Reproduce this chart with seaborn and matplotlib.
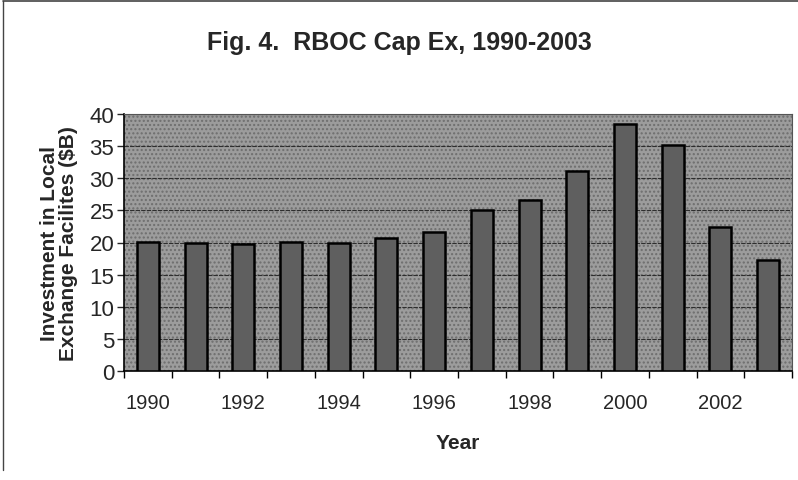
import numpy as np
import pandas as pd
import matplotlib
matplotlib.use("Agg")
import matplotlib.pyplot as plt
import seaborn as sns

years = list(range(1990, 2004))
capex = [20.1, 20.0, 19.8, 20.1, 20.0, 20.7, 21.7, 25.0, 26.6, 31.2, 38.5, 35.1, 22.4, 17.2]
label_years = [1990, 1992, 1994, 1996, 1998, 2000, 2002]

df = pd.DataFrame({'Year': [str(y) for y in years], 'CapEx': capex})

sns.set_style('white')
plt.rcParams['font.family'] = ['Liberation Sans Narrow', 'Liberation Sans', 'DejaVu Sans']

fig = plt.figure(figsize=(7.98, 4.81), dpi=100)
ax = fig.add_axes([124 / 798, 1 - 372 / 481, 668 / 798, 257 / 481])

sns.barplot(data=df, x='Year', y='CapEx', color='#5f5f5f', width=0.46,
            edgecolor='black', linewidth=1.8, saturation=1, ax=ax, zorder=3)

ax.set_facecolor('#9c9c9c')
ax.patch.set_hatch('....')
ax.patch.set_edgecolor('#6e6e6e')
ax.set_ylim(0, 40)
ax.set_xlim(-0.5, len(years) - 0.5)
ax.set_yticks(range(0, 41, 5))
ax.yaxis.grid(True, color='#2e2e2e', linewidth=0.8, linestyle=(0, (4, 1)), zorder=1)
ax.set_axisbelow(True)

# category boundaries carry the tick marks, labels sit on even years
ax.set_xticks(np.arange(-0.5, len(years), 1.0))
ax.set_xticklabels([])
ax.set_xticks([years.index(y) for y in label_years], minor=True)
ax.set_xticklabels([str(y) for y in label_years], minor=True, fontsize=14.5)
ax.tick_params(axis='x', which='major', length=5, width=1, direction='out', bottom=True, color='black')
ax.tick_params(axis='x', which='minor', length=0, pad=16)
ax.tick_params(axis='y', length=5, width=1, direction='out', left=True, labelsize=16, pad=2)

for s in ['top', 'right']:
    ax.spines[s].set_visible(True)
    ax.spines[s].set_color('#555555')
for s in ['left', 'bottom']:
    ax.spines[s].set_color('black')
    ax.spines[s].set_linewidth(1.2)

ax.set_xlabel('Year', fontsize=15, fontweight='bold', labelpad=15)
ax.set_ylabel('Investment in Local\nExchange Facilites ($B)', fontsize=15,
              fontweight='bold', labelpad=8, linespacing=1.0)

fig.text(0.5, 1 - 43 / 481, 'Fig. 4.  RBOC Cap Ex, 1990-2003', ha='center', va='center',
         fontsize=18, fontweight='bold')

# chart frame: only the top and left edges show in the scan
fig.add_artist(plt.Line2D([3 / 798, 3 / 798], [0.02, 1 - 2 / 481], transform=fig.transFigure,
                          color='#444444', linewidth=1))
fig.add_artist(plt.Line2D([3 / 798, 1.0], [1 - 2 / 481, 1 - 2 / 481], transform=fig.transFigure,
                          color='#444444', linewidth=1.2))

fig.savefig('out.png', dpi=100)
